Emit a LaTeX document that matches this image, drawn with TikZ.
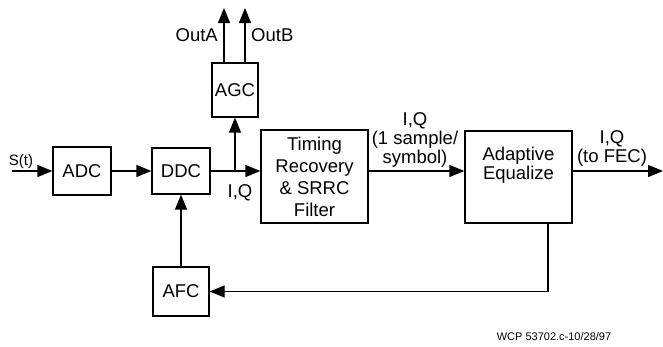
\documentclass[tikz,border=0pt]{standalone}
\usepackage{fontspec}
\setmainfont{Liberation Sans}
\usetikzlibrary{arrows.meta}

\tikzset{
	blk/.style={draw, line width=1.3pt, inner sep=0pt, align=center, font=\fontsize{18.5}{22}\selectfont},
	lbl/.style={inner sep=0pt, align=center, font=\fontsize{18.5}{19}\selectfont},
	sig/.style={line width=1.3pt, -{Triangle[length=15pt,width=12pt]}},
	wire/.style={line width=1.3pt}
}

\begin{document}
\begin{tikzpicture}[x=1pt,y=-1pt]
	\useasboundingbox (0,0) rectangle (663,346);

	\node[blk, minimum width=58pt, minimum height=48pt] (adc) at (82,171) {ADC};
	\node[blk, minimum width=58pt, minimum height=46pt] (ddc) at (181,171) {DDC};
	\node[blk, minimum width=46pt, minimum height=54pt] (agc) at (235,90) {AGC};
	\node[blk, minimum width=107pt, minimum height=93pt] (tim) at (314.5,176.5) {Timing\\Recovery\\\& SRRC\\Filter};
	\node[blk, minimum width=107pt, minimum height=92pt, font=\fontsize{18.5}{19}\selectfont] (adp) at (518.5,177) {Adaptive\\Equalize\\[9pt]};
	\node[blk, minimum width=56pt, minimum height=49pt] (afc) at (181,291.5) {AFC};

	\coordinate (in) at (12,171);
	\coordinate (br) at (235,171);
	\coordinate (outa) at (224,8);
	\coordinate (outb) at (245,8);
	\coordinate (out) at (663,171);
	\coordinate (fb) at (548,291.5);

	\node[lbl, font=\fontsize{15}{17}\selectfont] (st) at (21,162) {S(t)};
	\node[lbl] (iq) at (240,193) {I,Q};
	\node[lbl, anchor=east] (la) at (218,35) {OutA};
	\node[lbl, anchor=west] (lb) at (251,35) {OutB};
	\node[lbl] (iqs) at (415,140) {I,Q\\(1 sample/\\symbol)};
	\node[lbl] (iqf) at (612,148) {I,Q\\(to FEC)};
	\node[lbl, font=\fontsize{11}{13}\selectfont] (ref) at (554,337) {WCP 53702.c-10/28/97};

	\draw[sig] (in) -- (adc);
	\draw[sig] (adc) -- (ddc);
	\draw[sig] (ddc.east) -- (ddc.east -| tim.west);
	\draw[sig] (br) -- (agc.south);
	\draw[sig] (agc.north -| outa) -- (outa);
	\draw[sig] (agc.north -| outb) -- (outb);
	\draw[sig] (tim.east |- br) -- (adp.west |- br);
	\draw[sig] (adp.east |- br) -- (out);
	\draw[sig] (adp.south -| fb) |- (afc.east);
	\draw[sig] (afc.north) -- (ddc.south);
\end{tikzpicture}
\end{document}
